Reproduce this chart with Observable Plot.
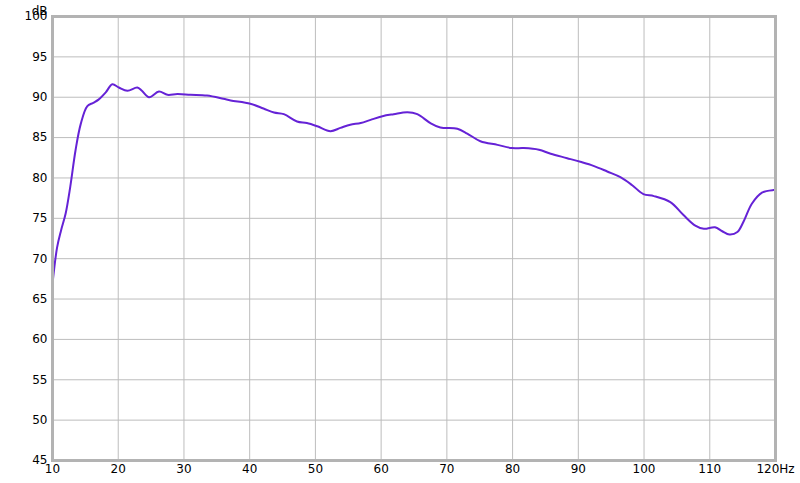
<!DOCTYPE html>
<html>
<head>
<meta charset="utf-8">
<script src="https://cdn.jsdelivr.net/npm/d3@7"></script>
<script src="https://cdn.jsdelivr.net/npm/@observablehq/plot@0.6"></script>
<style>
  html, body { margin: 0; padding: 0; background: #fff; }
  svg { display: block; }
</style>
</head>
<body>
<div id="chart"></div>
<script>
const freq = [10.0, 10.7, 11.3, 12.0, 12.7, 13.5, 14.3, 15.3, 16.2, 17.0, 18.1, 19.1, 20.1, 21.4, 22.9, 23.6, 24.7, 26.2, 27.5, 29.0, 31.0, 33.5, 36.0, 37.1, 40.1, 42.1, 43.7, 45.2, 47.2, 48.7, 50.3, 52.3, 53.8, 55.3, 56.9, 58.4, 60.2, 61.9, 64.0, 65.5, 67.5, 69.0, 71.6, 73.1, 75.1, 77.7, 79.9, 81.7, 84.0, 85.8, 88.3, 90.3, 92.3, 94.4, 96.4, 98.2, 99.9, 101.5, 104.0, 106.0, 107.8, 109.1, 110.8, 111.9, 113.0, 114.2, 115.2, 116.4, 118.0, 119.7, 120.0];
const level = [66.9, 71.4, 73.5, 75.6, 78.9, 83.4, 86.7, 88.9, 89.3, 89.7, 90.6, 91.6, 91.2, 90.8, 91.2, 90.8, 90.0, 90.7, 90.3, 90.4, 90.3, 90.2, 89.8, 89.6, 89.2, 88.6, 88.1, 87.9, 87.0, 86.8, 86.4, 85.8, 86.2, 86.6, 86.8, 87.2, 87.65, 87.9, 88.15, 87.9, 86.8, 86.25, 86.1, 85.5, 84.55, 84.1, 83.7, 83.7, 83.5, 83.0, 82.45, 82.0, 81.5, 80.8, 80.1, 79.1, 78.0, 77.75, 77.0, 75.4, 74.1, 73.7, 73.9, 73.4, 73.0, 73.3, 74.7, 76.8, 78.2, 78.5, 78.5];
const xTicks = [10, 20, 30, 40, 50, 60, 70, 80, 90, 100, 110, 120];
const yTicks = [45, 50, 55, 60, 65, 70, 75, 80, 85, 90, 95, 100];
const xUnit = "Hz";
const yUnit = "dB";

const data = freq.map((f, i) => ({f, v: level[i]}));

const chart = Plot.plot({
  width: 800,
  height: 483,
  marginLeft: 52,
  marginRight: 25,
  marginTop: 16,
  marginBottom: 23,
  style: {fontFamily: "DejaVu Sans, sans-serif", fontSize: "12px", color: "#000", background: "#fff"},
  x: {domain: [10, 120], ticks: xTicks},
  y: {domain: [45, 100], ticks: yTicks},
  marks: [
    Plot.gridX(xTicks, {stroke: "#bdbdbd", strokeOpacity: 1, strokeWidth: 1}),
    Plot.gridY(yTicks, {stroke: "#bdbdbd", strokeOpacity: 1, strokeWidth: 1}),
    Plot.axisX(xTicks, {tickSize: 0, tickPadding: 4, label: null, fontSize: 12, fill: "#000",
      tickFormat: d => d === 120 ? d + xUnit : String(d)}),
    Plot.axisY(yTicks, {tickSize: 0, tickPadding: 5, label: null, fontSize: 12, fill: "#000"}),
    Plot.text([yUnit], {frameAnchor: "top-left", dx: -5, dy: -10, textAnchor: "end", fontSize: 12, fill: "#000"}),
    Plot.line(data, {x: "f", y: "v", stroke: "#6522d6", strokeWidth: 2, curve: "catmull-rom"}),
    Plot.frame({stroke: "#b3b3b3", strokeWidth: 3})
  ]
});
document.getElementById("chart").appendChild(chart);
</script>
</body>
</html>
